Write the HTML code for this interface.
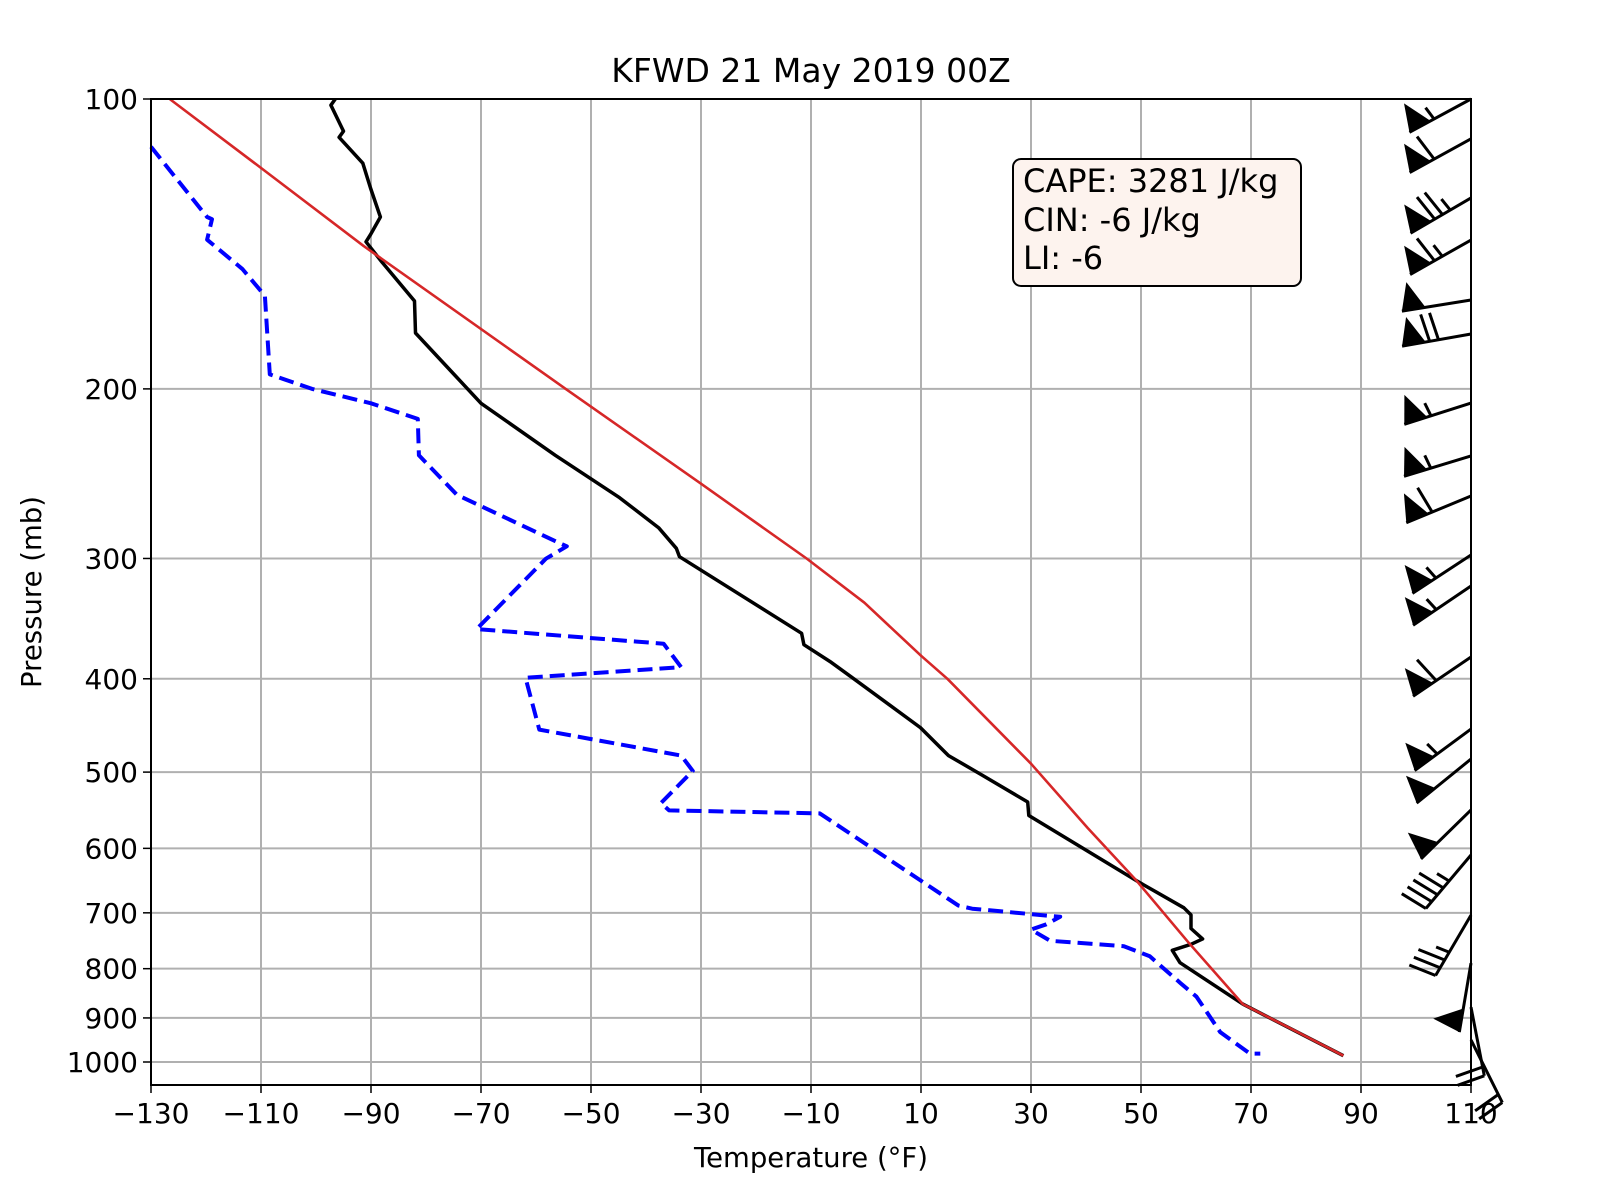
<!DOCTYPE html>
<html><head><meta charset="utf-8"><style>
html,body{margin:0;padding:0;background:#fff;}
svg{display:block;font-family:"DejaVu Sans","Liberation Sans",sans-serif;}
</style></head><body>
<svg id="chart" width="1623" height="1191" viewBox="0 0 1623 1191" xmlns="http://www.w3.org/2000/svg">
<rect x="0" y="0" width="1623" height="1191" fill="#fff"/>
<g id="grid"></g>
<g id="series"></g>
<g id="axes"></g>
<g id="barbs"></g>
<text x="811" y="82" text-anchor="middle" font-size="33">KFWD 21 May 2019 00Z</text>
<text x="811" y="1167" text-anchor="middle" font-size="27.5">Temperature (°F)</text>
<text transform="translate(41,592) rotate(-90)" text-anchor="middle" font-size="27.5">Pressure (mb)</text>
<g>
<rect x="1013" y="159" width="288" height="127" rx="8" ry="8" fill="#fdf3ee" stroke="#000" stroke-width="2"/>
<text x="1023" y="192" font-size="32">CAPE: 3281 J/kg</text>
<text x="1023" y="231" font-size="32">CIN: -6 J/kg</text>
<text x="1023" y="269" font-size="32">LI: -6</text>
</g>
</svg>
<script>
const xTicks=[-130,-110,-90,-70,-50,-30,-10,10,30,50,70,90,110];
const pTicks=[100,200,300,400,500,600,700,800,900,1000];
const tempT=[-96.5,-97.3,-95.0,-95.8,-91.5,-90.1,-88.3,-90.1,-90.9,-88.1,-82.1,-81.9,-74.7,-70.0,-56.5,-44.8,-37.7,-34.5,-33.9,-11.7,-11.3,-6.3,-2.5,9.9,15.0,20.8,29.4,29.6,49.2,57.8,59.1,59.1,61.2,59.1,55.7,57.1,68.5,86.8];
const tempP=[100,101.5,108,109.6,116.6,123.7,132.6,138.3,140.7,147.5,162.1,175,193.7,207,234.4,259.4,278.7,292.8,298.7,358.8,368.7,384.6,399,449.5,480.6,502.4,537,554.7,648.4,691.6,703.5,726.7,745,754.7,765.6,788.6,870.8,985];
const dewT=[-130,-119.8,-118.9,-119.8,-113.4,-109.3,-108.4,-100.7,-90.0,-81.5,-81.3,-74.4,-56.9,-54.4,-58.2,-70.8,-36.8,-33.6,-61.9,-59.4,-33.6,-31.5,-37.3,-35.8,-8.4,16.8,19.3,35.3,32.8,30.0,33.5,46.9,51.6,57.2,60.1,64.4,69.8,71.7];
const dewP=[112.1,132.6,133.3,140.0,150.1,160.1,193.2,200,207,214.9,234.4,257.6,287.1,291.4,300.2,355.2,367.8,389.1,399.1,451.7,480.6,498.5,538.4,548,551.9,688,693.2,706.7,719.5,728.6,748.4,758.1,776.6,828.2,855.5,930.9,980.2,980];
const parcelT=[-126.6,-108.9,-91.3,-54.6,-30.0,-10.8,-0.3,10.0,14.8,30.0,40.3,49.2,58.5,68.5,77.5,86.8];
const parcelP=[100,119.2,142.2,200,250.9,300,333.5,378.5,400,490,571.5,648.4,750,870.8,925,985];
const barbP=[100,110,126.7,140.1,161.7,175.4,206.9,234.8,258.4,297.5,320.4,379.7,451.1,484.6,547.4,609.6,703.9,789.4,877,948.7];
const barbSpd=[55,60,75,65,50,70,55,55,60,55,55,60,55,50,50,45,35,50,20,20];
const barbDx=[-61,-60,-60,-60,-68,-68,-66,-66,-63,-58,-56,-56,-57,-53,-48,-43,-34,-11,12,30];
const barbDy=[33,33,35,34,11,12,21,20,26,38,38,38,42,43,47,51,58,65,62,60];

const X0=151,X1=1471,Y0=99,Y1=1085,DEC=963;
function xs(t){return X0+(t+130)/240*(X1-X0);}
function ys(p){return Y0+DEC*Math.log10(p/100);}
const NS='http://www.w3.org/2000/svg';
function mk(tag,attrs,parent){const e=document.createElementNS(NS,tag);for(const k in attrs)e.setAttribute(k,attrs[k]);parent.appendChild(e);return e;}
const grid=document.getElementById('grid'),axes=document.getElementById('axes'),series=document.getElementById('series'),barbs=document.getElementById('barbs');

xTicks.forEach(t=>{
  const x=xs(t);
  const g=mk('line',{x1:x,x2:x,y1:Y0,y2:Y1,stroke:'#b0b0b0','stroke-width':2},grid);
  
  
  const tk=mk('line',{x1:x,x2:x,y1:Y1,y2:Y1+8,stroke:'#000','stroke-width':1.5},axes);
  
  
  const lb=mk('text',{x:x,y:Y1+38,'text-anchor':'middle','font-size':28},axes);
  lb.textContent=(t<0?'\u2212'+(-t):String(t));
  
  
});
pTicks.forEach(p=>{
  const y=ys(p);
  const g=mk('line',{x1:X0,x2:X1,y1:y,y2:y,stroke:'#b0b0b0','stroke-width':2},grid);
  
  
  const tk=mk('line',{x1:X0-8,x2:X0,y1:y,y2:y,stroke:'#000','stroke-width':1.5},axes);
  
  
  const lb=mk('text',{x:X0-13,y:y+10,'text-anchor':'end','font-size':28},axes);
  lb.textContent=String(p);
  
  
});
const fr=mk('rect',{x:X0,y:Y0,width:X1-X0,height:Y1-Y0,fill:'none',stroke:'#000','stroke-width':2},axes);



function pts(T,P){return T.map((t,i)=>xs(t).toFixed(1)+','+ys(P[i]).toFixed(1)).join(' ');}
const dl=mk('polyline',{points:pts(dewT,dewP),fill:'none',stroke:'#0000ff','stroke-width':4,'stroke-dasharray':'15,7','stroke-linejoin':'round'},series);


const tl=mk('polyline',{points:pts(tempT,tempP),fill:'none',stroke:'#000','stroke-width':3.5,'stroke-linejoin':'round'},series);


const pl=mk('polyline',{points:pts(parcelT,parcelP),fill:'none',stroke:'#d62728','stroke-width':2.6,'stroke-linejoin':'round'},series);



barbP.forEach((p,i)=>{
  const bx=X1,by=ys(p);
  const L=Math.hypot(barbDx[i],barbDy[i]);
  const dx=barbDx[i]/L,dy=barbDy[i]/L;
  const nx=-dy,ny=dx;
  const len=70,h=28,fw=24,sp=9;
  const tx=bx+dx*len,ty=by+dy*len;
  const g=mk('g',{},barbs);
  
  
  mk('line',{x1:bx,y1:by,x2:tx,y2:ty,stroke:'#000','stroke-width':3},g);
  let s=barbSpd[i],pos=0;
  const flags=Math.floor(s/50);s-=flags*50;
  const full=Math.floor(s/10);s-=full*10;
  const half=s>=5?1:0;
  for(let f=0;f<flags;f++){
    const ax=tx-dx*pos,ay=ty-dy*pos;
    const cx=ax-dx*fw,cy=ay-dy*fw;
    const px=ax+nx*h-dx*9,py=ay+ny*h-dy*9;
    mk('polygon',{points:`${ax},${ay} ${px},${py} ${cx},${cy}`,fill:'#000'},g);
    pos+=fw+4;
  }
  for(let f=0;f<full;f++){
    const ax=tx-dx*pos,ay=ty-dy*pos;
    mk('line',{x1:ax,y1:ay,x2:ax+nx*h+dx*h*0.15,y2:ay+ny*h+dy*h*0.15,stroke:'#000','stroke-width':3},g);
    pos+=sp;
  }
  if(half){
    if(flags===0&&full===0)pos=sp;
    const ax=tx-dx*pos,ay=ty-dy*pos;
    mk('line',{x1:ax,y1:ay,x2:ax+nx*h/2+dx*h*0.075,y2:ay+ny*h/2+dy*h*0.075,stroke:'#000','stroke-width':3},g);
  }
});
</script>
</body></html>
